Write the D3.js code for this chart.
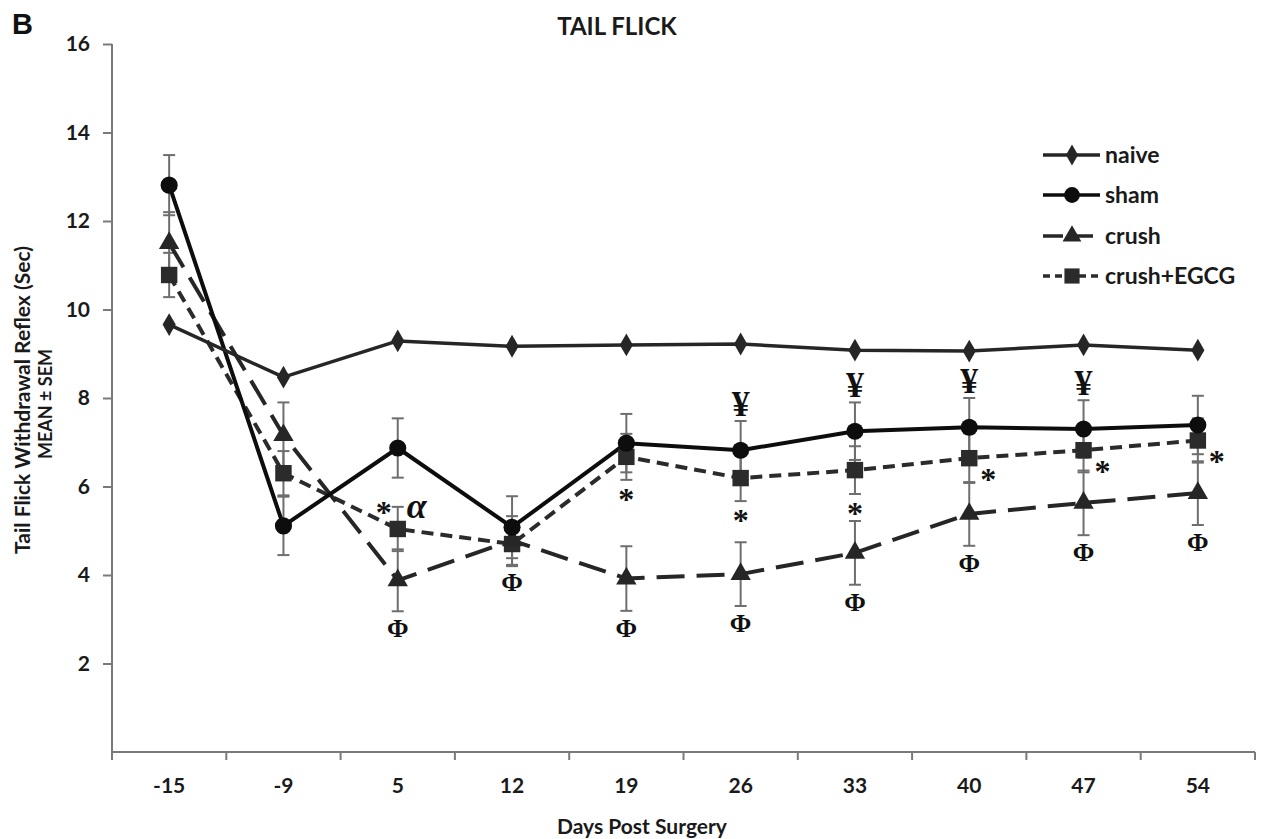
<!DOCTYPE html>
<html>
<head>
<meta charset="utf-8">
<script src="https://cdn.jsdelivr.net/npm/d3@7"></script>
<style>
  html, body { margin: 0; padding: 0; background: #fff; }
  svg { display: block; }
</style>
</head>
<body>
<svg id="chart" width="1267" height="839"></svg>
<script>
// Tail flick withdrawal latency by group over days post surgery (mean ± SEM)
const days = ["-15", "-9", "5", "12", "19", "26", "33", "40", "47", "54"];

const naive    = [9.66, 8.47, 9.29, 9.17, 9.20, 9.22, 9.08, 9.06, 9.20, 9.08];

const sham     = [12.81, 5.11, 6.87, 5.08, 6.98, 6.82, 7.25, 7.34, 7.30, 7.39];
const shamErr  = [0.68, 0.66, 0.67, 0.70, 0.66, 0.66, 0.65, 0.66, 0.65, 0.66];

const crush    = [11.50, 7.16, 3.88, 4.78, 3.92, 4.02, 4.50, 5.38, 5.63, 5.85];
const crushErr = [0.70, 0.74, 0.70, 0.55, 0.73, 0.72, 0.72, 0.72, 0.73, 0.72];

const egcg     = [10.78, 6.30, 5.04, 4.70, 6.67, 6.19, 6.37, 6.64, 6.82, 7.04];
const egcgErr  = [0.50, 0.50, 0.50, 0.50, 0.52, 0.52, 0.54, 0.56, 0.50, 0.50];

const yTicks = [2, 4, 6, 8, 10, 12, 14, 16];
const seriesNames = ["naive", "sham", "crush", "crush+EGCG"];

// significance marks
const yenDays       = ["26", "33", "40", "47"];          // sham vs naive
const phiDays       = ["5", "12", "19", "26", "33", "40", "47", "54"]; // crush
const starBelowDays = ["19", "26", "33"];                // crush+EGCG
const starRightDays = ["40", "47", "54"];                // crush+EGCG
const alphaDays     = ["5"];                             // crush+EGCG

(function draw() {
  const svg = d3.select("#chart");
  const left = 112, right = 1255, plotTop = 44, plotBottom = 752;

  const xBand = d3.scaleBand().domain(days).range([left, right]);
  const x = d => xBand(d) + xBand.bandwidth() / 2;
  const y = d3.scaleLinear().domain([0, 16]).range([plotBottom, plotTop]);

  const axisColor = "#7a7a7a";
  const textFont = "Lato, 'Open Sans', sans-serif";
  const serif = "'Liberation Serif', 'DejaVu Serif', serif";

  // ---- axes ----
  const yAxis = svg.append("g")
    .attr("transform", `translate(${left},0)`)
    .call(d3.axisLeft(y).tickValues(yTicks).tickSize(9).tickPadding(13).tickSizeOuter(0));
  yAxis.select(".domain").remove();
  yAxis.append("line").attr("x1", 0).attr("x2", 0).attr("y1", plotTop).attr("y2", plotBottom)
    .attr("stroke", axisColor).attr("stroke-width", 2);
  yAxis.selectAll(".tick line").attr("stroke", axisColor).attr("stroke-width", 2);
  yAxis.selectAll(".tick text")
    .attr("font-family", textFont).attr("font-weight", 700).attr("font-size", 21)
    .attr("fill", "#1a1a1a");

  const xAxis = svg.append("g")
    .attr("transform", `translate(0,${plotBottom})`)
    .call(d3.axisBottom(xBand).tickSize(0).tickPadding(26));
  xAxis.select(".domain").remove();
  xAxis.selectAll(".tick text")
    .attr("font-family", textFont).attr("font-weight", 700).attr("font-size", 21)
    .attr("fill", "#1a1a1a");
  xAxis.append("line").attr("x1", left).attr("x2", right).attr("y1", 0).attr("y2", 0)
    .attr("stroke", axisColor).attr("stroke-width", 2);
  const boundaries = days.map(d => xBand(d)).concat([right]);
  xAxis.selectAll("line.bnd").data(boundaries).join("line")
    .attr("class", "bnd")
    .attr("x1", d => d).attr("x2", d => d).attr("y1", 0).attr("y2", 8)
    .attr("stroke", axisColor).attr("stroke-width", 2);

  // ---- titles ----
  svg.append("text").attr("x", 12).attr("y", 34)
    .attr("font-family", "'Liberation Sans', Arial, sans-serif").attr("font-weight", 700)
    .attr("font-size", 29).attr("fill", "#111").text("B");

  svg.append("text").attr("x", 617).attr("y", 35).attr("text-anchor", "middle")
    .attr("font-family", textFont).attr("font-weight", 700).attr("font-size", 24)
    .attr("fill", "#1a1a1a").text("TAIL FLICK");

  svg.append("text").attr("x", 642).attr("y", 834).attr("text-anchor", "middle")
    .attr("font-family", textFont).attr("font-weight", 700).attr("font-size", 21)
    .attr("fill", "#1a1a1a").text("Days Post Surgery");

  svg.append("text").attr("transform", "translate(30,400) rotate(-90)")
    .attr("text-anchor", "middle")
    .attr("font-family", textFont).attr("font-weight", 700).attr("font-size", 21)
    .attr("fill", "#1a1a1a").text("Tail Flick Withdrawal Reflex (Sec)");

  svg.append("text").attr("transform", "translate(52,404) rotate(-90)")
    .attr("text-anchor", "middle")
    .attr("font-family", textFont).attr("font-weight", 700).attr("font-size", 18)
    .attr("fill", "#1a1a1a").text("MEAN ± SEM");

  // ---- series definitions ----
  const series = [
    { name: seriesNames[0], values: naive, err: null, symbol: d3.symbolDiamond, size: 150,
      color: "#262626", width: 3.5, dash: null },
    { name: seriesNames[1], values: sham, err: shamErr, symbol: d3.symbolCircle, size: 230,
      color: "#0d0d0d", width: 4, dash: null },
    { name: seriesNames[2], values: crush, err: crushErr, symbol: d3.symbolTriangle, size: 180,
      color: "#262626", width: 4, dash: "28,12" },
    { name: seriesNames[3], values: egcg, err: egcgErr, symbol: d3.symbolSquare, size: 270,
      color: "#2b2b2b", width: 4, dash: "12,7" }
  ];

  // error bars
  const errG = svg.append("g");
  series.filter(s => s.err).forEach(s => {
    const g = errG.append("g");
    days.forEach((d, i) => {
      const cx = x(d), hi = y(s.values[i] + s.err[i]), lo = y(s.values[i] - s.err[i]);
      g.append("line").attr("x1", cx).attr("x2", cx).attr("y1", hi).attr("y2", lo)
        .attr("stroke", "#6e6e6e").attr("stroke-width", 2);
      [hi, lo].forEach(v => g.append("line")
        .attr("x1", cx - 6).attr("x2", cx + 6).attr("y1", v).attr("y2", v)
        .attr("stroke", "#6e6e6e").attr("stroke-width", 2));
    });
  });

  // lines
  const line = d3.line().x((v, i) => x(days[i])).y(v => y(v));
  const linesG = svg.append("g");
  series.slice().reverse().forEach(s => {
    linesG.append("path").datum(s.values)
      .attr("d", line).attr("fill", "none")
      .attr("stroke", s.color).attr("stroke-width", s.width)
      .attr("stroke-dasharray", s.dash)
      .attr("stroke-linejoin", "round");
  });

  // markers
  const markG = svg.append("g");
  series.slice().reverse().forEach(s => {
    markG.append("g").selectAll("path").data(s.values).join("path")
      .attr("transform", (v, i) => `translate(${x(days[i])},${y(v)})`)
      .attr("d", d3.symbol().type(s.symbol).size(s.size))
      .attr("fill", s.color);
  });

  // ---- significance marks ----
  const marks = svg.append("g").attr("font-family", serif).attr("font-weight", 700).attr("fill", "#111");
  const idx = d => days.indexOf(d);

  yenDays.forEach(d => {
    const i = idx(d);
    marks.append("text").attr("x", x(d)).attr("y", y(sham[i] + shamErr[i]) - 5)
      .attr("text-anchor", "middle").attr("font-size", 36).text("¥");
  });
  phiDays.forEach(d => {
    const i = idx(d);
    marks.append("text").attr("x", x(d)).attr("y", y(crush[i] - crushErr[i]) + 26)
      .attr("text-anchor", "middle").attr("font-size", 26).text("Φ");
  });
  starBelowDays.forEach(d => {
    const i = idx(d);
    marks.append("text").attr("x", x(d)).attr("y", y(egcg[i] - egcgErr[i]) + 30)
      .attr("text-anchor", "middle").attr("font-size", 32).text("*");
  });
  starRightDays.forEach(d => {
    const i = idx(d);
    marks.append("text").attr("x", x(d) + 19).attr("y", y(egcg[i]) + 32)
      .attr("text-anchor", "middle").attr("font-size", 32).text("*");
  });
  alphaDays.forEach(d => {
    const i = idx(d);
    marks.append("text").attr("x", x(d) - 14).attr("y", y(egcg[i]) - 6)
      .attr("text-anchor", "middle").attr("font-size", 32).text("*");
    marks.append("text").attr("x", x(d) + 19).attr("y", y(egcg[i]) - 11)
      .attr("text-anchor", "middle").attr("font-size", 36).attr("font-style", "italic").text("α");
  });

  // ---- legend ----
  const legend = svg.append("g").attr("transform", "translate(1043,0)");
  const rowY = [155, 195, 236, 276];
  series.forEach((s, k) => {
    const g = legend.append("g").attr("transform", `translate(0,${rowY[k]})`);
    g.append("line").attr("x1", 0).attr("x2", 57).attr("y1", 0).attr("y2", 0)
      .attr("stroke", s.color).attr("stroke-width", 3.5)
      .attr("stroke-dasharray", s.dash ? (k === 2 ? "20,10" : "7,5") : null);
    g.append("path").attr("transform", "translate(29,0)")
      .attr("d", d3.symbol().type(s.symbol).size(s.size * 0.85)).attr("fill", s.color);
    g.append("text").attr("x", 62).attr("y", 8)
      .attr("font-family", textFont).attr("font-weight", 700).attr("font-size", 23)
      .attr("fill", "#1a1a1a").text(s.name);
  });
})();
</script>
</body>
</html>
